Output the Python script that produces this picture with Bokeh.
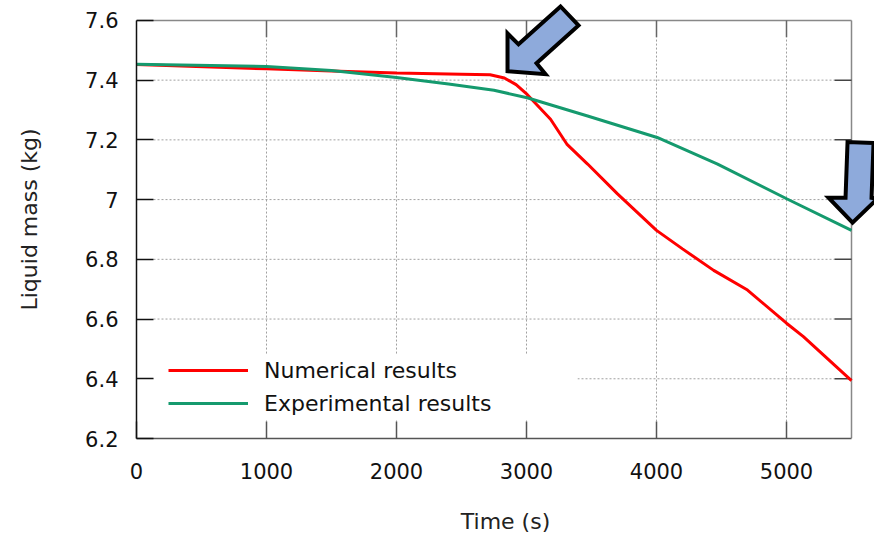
from bokeh.plotting import figure
from bokeh.models import Legend, LegendItem, FixedTicker, PolyAnnotation, Range1d
from bokeh.embed import file_html
from bokeh.resources import INLINE

# ---- data ----
time_num = [0, 1000, 1500, 2000, 2500, 2720, 2830, 2920, 3005, 3185, 3310, 3470, 3700, 4000, 4200, 4440, 4700, 5000, 5130, 5500]
mass_num = [7.452, 7.438, 7.431, 7.424, 7.420, 7.418, 7.407, 7.385, 7.352, 7.269, 7.186, 7.119, 7.019, 6.897, 6.835, 6.763, 6.697, 6.586, 6.541, 6.394]

time_exp = [0, 1000, 1500, 2000, 2400, 2750, 3005, 3470, 4005, 4470, 5005, 5500]
mass_exp = [7.453, 7.446, 7.432, 7.409, 7.387, 7.366, 7.341, 7.280, 7.208, 7.119, 7.002, 6.897]

x_ticks = [0, 1000, 2000, 3000, 4000, 5000]
y_ticks = [6.2, 6.4, 6.6, 6.8, 7.0, 7.2, 7.4, 7.6]
y_labels = {v: f"{v:g}" for v in y_ticks}
x_lim = (0, 5500)
y_lim = (6.2, 7.6)

x_title = "Time (s)"
y_title = "Liquid mass (kg)"
series_names = ["Numerical results", "Experimental results"]

# annotation arrows: tip position (data) + outline in pixel offsets from tip
arrow_tips = [(2854, 7.430), (5508, 6.923)]
arrow_shapes = [
    [(0, 0), (0, -38), (11, -27), (53, -65), (71, -46), (29, -8), (38, 3)],
    [(0, 0), (-24, -25), (-7, -25), (-5, -81), (21, -80), (19, -25), (25, -24)],
]

FONT = "DejaVu Sans"
RED = "#ff0000"
GREEN = "#159a6e"

# ---- layout: frame extends past the axes box so the arrows are not clipped ----
W, H = 874, 536
LEFT, BOTTOM = 136, 96          # px
PX_X = 130 / 1000.0              # px per second
PX_Y = 60 / 0.2                  # px per kg
SEC_PER_PX = 1 / PX_X
KG_PER_PX = 1 / PX_Y
frame_w = W - LEFT
frame_h = H - BOTTOM
x_end = x_lim[0] + frame_w * SEC_PER_PX
y_end = y_lim[0] + frame_h * KG_PER_PX

p = figure(width=W, height=H, output_backend="svg", toolbar_location=None,
           x_range=Range1d(x_lim[0], x_end), y_range=Range1d(y_lim[0], y_end),
           min_border_left=LEFT, min_border_right=0, min_border_top=0, min_border_bottom=BOTTOM)

p.background_fill_color = "white"
p.border_fill_color = "white"
p.outline_line_color = None
p.xgrid.visible = False
p.ygrid.visible = False

TICK = 17
tick_dx = TICK * SEC_PER_PX
tick_dy = TICK * KG_PER_PX

# dotted grid (between the inside ticks)
gx = [t for t in x_ticks if x_lim[0] < t < x_lim[1]]
gy = [v for v in y_ticks if y_lim[0] < v < y_lim[1]]
grid_kw = dict(line_color="#a0a0a0", line_dash="2 2", line_width=1)
p.segment(x0=gx, y0=[y_lim[0] + tick_dy] * len(gx), x1=gx, y1=[y_lim[1] - tick_dy] * len(gx), **grid_kw)
p.segment(x0=[x_lim[0] + tick_dx] * len(gy), y0=gy, x1=[x_lim[1] - tick_dx] * len(gy), y1=gy, **grid_kw)

# opaque legend box
p.quad(left=[131], right=[3392], bottom=[6.26], top=[6.48], fill_color="white", line_color=None)

# top / right frame lines and mirror ticks
p.segment(x0=[x_lim[0], x_lim[1]], y0=[y_lim[1], y_lim[0]], x1=[x_lim[1], x_lim[1]], y1=[y_lim[1], y_lim[1]],
          line_color="#888888", line_width=1.5)
p.segment(x0=gx, y0=[y_lim[1]] * len(gx), x1=gx, y1=[y_lim[1] - tick_dy] * len(gx),
          line_color="#666666", line_width=1.5)
p.segment(x0=[x_lim[1]] * len(gy), y0=gy, x1=[x_lim[1] - tick_dx] * len(gy), y1=gy,
          line_color="#444444", line_width=1.5)

# main axes
xa = p.xaxis[0]
ya = p.yaxis[0]
xa.ticker = FixedTicker(ticks=x_ticks)
ya.ticker = FixedTicker(ticks=y_ticks)
xa.bounds = x_lim
ya.bounds = y_lim
ya.major_label_overrides = y_labels
for ax in (xa, ya):
    ax.major_tick_in = TICK
    ax.major_tick_out = 0
    ax.minor_tick_in = 0
    ax.minor_tick_out = 0
    ax.major_label_text_font = FONT
    ax.major_label_text_font_size = "21px"
    ax.major_label_text_color = "#111111"
    ax.axis_label_text_font = FONT
    ax.axis_label_text_font_size = "22px"
    ax.axis_label_text_font_style = "normal"
    ax.axis_label_text_color = "#222222"
    ax.major_tick_line_width = 1.5
    ax.axis_line_width = 1.5
xa.axis_line_color = "#555555"
xa.major_tick_line_color = "#555555"
ya.axis_line_color = "#111111"
ya.major_tick_line_color = "#111111"
xa.axis_label = x_title
ya.axis_label = y_title
xa.major_label_standoff = 24
xa.axis_label_standoff = 27
ya.major_label_standoff = 18
ya.axis_label_standoff = 40

# lines
r_num = p.line(time_num, mass_num, line_color=RED, line_width=3)
r_exp = p.line(time_exp, mass_exp, line_color=GREEN, line_width=3)

legend = Legend(items=[LegendItem(label=series_names[0], renderers=[r_num]),
                       LegendItem(label=series_names[1], renderers=[r_exp])],
                location=(28, 18), background_fill_alpha=0, border_line_alpha=0,
                label_text_font=FONT, label_text_font_size="22px", label_text_color="#111111",
                glyph_width=80, glyph_height=26, label_height=26, label_standoff=16,
                spacing=7, padding=4, margin=0)
p.add_layout(legend, "center")

# arrows
for (tx, ty), shape in zip(arrow_tips, arrow_shapes):
    xs = [tx + dx * SEC_PER_PX for dx, dy in shape]
    ys = [ty - dy * KG_PER_PX for dx, dy in shape]
    p.add_layout(PolyAnnotation(xs=xs, ys=ys, fill_color="#8eaadb", fill_alpha=1,
                                line_color="black", line_alpha=1, line_width=4, line_join="miter"))

open("out.html", "w").write(file_html(p, INLINE))
